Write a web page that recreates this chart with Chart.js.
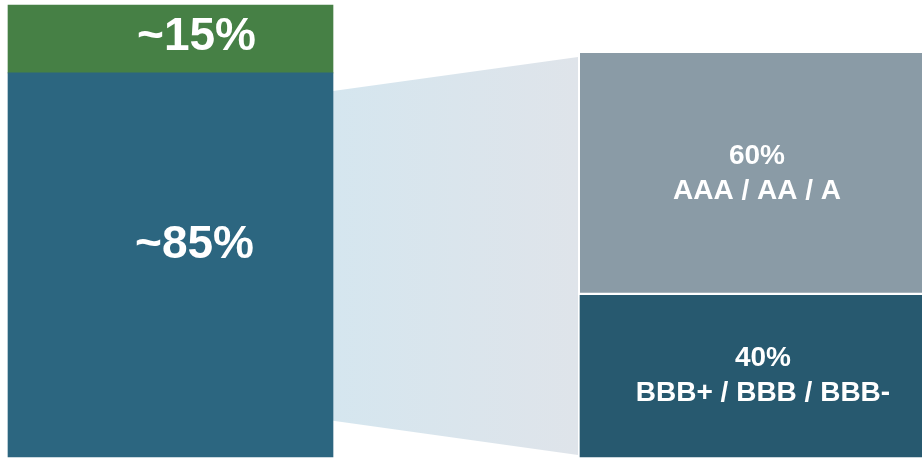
<!DOCTYPE html>
<html>
<head>
<meta charset="utf-8">
<script src="https://cdn.jsdelivr.net/npm/chart.js@4/dist/chart.umd.min.js"></script>
<style>
  html, body { margin: 0; padding: 0; background: #ffffff; }
  #wrap { width: 922px; height: 459px; position: relative; }
</style>
</head>
<body>
<div id="wrap"><canvas id="c"></canvas></div>
<script>
// Columns: overall split, then the breakdown of its larger part
const columns = ['Overall', 'Rating mix'];

// Left column: overall split (top segment first)
const splitLabels = ['~15%', '~85%'];
const splitValues = [15, 85];

// Right column: breakdown of the larger segment by rating bucket (top first)
const ratingPct = ['60%', '40%'];
const ratingNames = ['AAA / AA / A', 'BBB+ / BBB / BBB-'];
const ratingValues = [60, 40];

// Connector band ends: [bottom, top] on each column's own axis
const connectorFrom = [8, 81];
const connectorTo = [0.5, 99];

const ratingAxisMax = 111.9;

// floating ranges built from the shares
const leftBottom = [0, splitValues[1]];
const leftTop = [splitValues[1], splitValues[1] + splitValues[0]];
const rightBottom = [0, ratingValues[1]];
const rightTop = [ratingValues[1], ratingValues[1] + ratingValues[0]];

const FONT = '"Liberation Sans", Arial, sans-serif';

const connectorPlugin = {
  id: 'connector',
  beforeDatasetsDraw(chart) {
    const ctx = chart.ctx;
    const lb = chart.getDatasetMeta(0).data[0];
    const rb = chart.getDatasetMeta(2).data[1];
    if (!lb || !rb) return;
    const y = chart.scales.y, y2 = chart.scales.y2;
    const x0 = lb.x + lb.width / 2;
    const x1 = rb.x - rb.width / 2 - 2;
    const grad = ctx.createLinearGradient(x0, 0, x1, 0);
    grad.addColorStop(0, '#d5e6ef');
    grad.addColorStop(1, '#dfe4ea');
    ctx.save();
    ctx.beginPath();
    ctx.moveTo(x0, y.getPixelForValue(connectorFrom[1]));
    ctx.lineTo(x1, y2.getPixelForValue(connectorTo[1]));
    ctx.lineTo(x1, y2.getPixelForValue(connectorTo[0]));
    ctx.lineTo(x0, y.getPixelForValue(connectorFrom[0]));
    ctx.closePath();
    ctx.fillStyle = grad;
    ctx.fill();
    ctx.restore();
  }
};

const labelPlugin = {
  id: 'segmentLabels',
  afterDatasetsDraw(chart) {
    const ctx = chart.ctx;
    ctx.save();
    ctx.fillStyle = '#ffffff';
    ctx.textAlign = 'center';
    ctx.textBaseline = 'middle';
    chart.data.datasets.forEach((ds, i) => {
      const meta = chart.getDatasetMeta(i);
      meta.data.forEach((el, j) => {
        if (ds.data[j] === null) return;
        const cx = el.x + ds.labelDx;
        const cy = (el.y + el.base) / 2 + ds.labelDy;
        ctx.font = 'bold ' + ds.labelSize + 'px ' + FONT;
        const lines = ds.labelLines;
        const lh = ds.labelSize * 1.25;
        lines.forEach((t, k) => {
          ctx.fillText(t, cx, cy + (k - (lines.length - 1) / 2) * lh);
        });
      });
    });
    ctx.restore();
  }
};

new Chart(document.getElementById('c'), {
  type: 'bar',
  data: {
    labels: columns,
    datasets: [
      {
        label: splitLabels[1],
        data: [leftBottom, null],
        yAxisID: 'y',
        backgroundColor: '#2c6680',
        barThickness: 325,
        clip: false,
        labelLines: [splitLabels[1]], labelSize: 46, labelDx: 24, labelDy: -20
      },
      {
        label: splitLabels[0],
        data: [leftTop, null],
        yAxisID: 'y',
        backgroundColor: '#468045',
        barThickness: 325,
        clip: false,
        labelLines: [splitLabels[0]], labelSize: 46, labelDx: 26, labelDy: -2
      },
      {
        label: ratingNames[1],
        data: [null, rightBottom],
        yAxisID: 'y2',
        backgroundColor: '#27596f',
        barThickness: 342,
        clip: false,
        labelLines: [ratingPct[1], ratingNames[1]], labelSize: 28, labelDx: 12, labelDy: 0
      },
      {
        label: ratingNames[0],
        data: [null, rightTop],
        yAxisID: 'y2',
        backgroundColor: '#8a9ba6',
        borderColor: '#ffffff',
        borderWidth: { top: 0, left: 0, right: 0, bottom: 3 },
        borderSkipped: false,
        barThickness: 342,
        clip: false,
        labelLines: [ratingPct[0], ratingNames[0]], labelSize: 28, labelDx: 6, labelDy: 0
      }
    ]
  },
  options: {
    responsive: true,
    maintainAspectRatio: false,
    animation: false,
    layout: { padding: { top: 5, bottom: 2, left: 170.5, right: 171 } },
    plugins: { legend: { display: false }, tooltip: { enabled: false } },
    scales: {
      x: { type: 'category', offset: false, stacked: true, display: false },
      y: { min: 0, max: 100, display: false },
      y2: { min: 0, max: ratingAxisMax, display: false, position: 'right' }
    }
  },
  plugins: [connectorPlugin, labelPlugin]
});
</script>
</body>
</html>
